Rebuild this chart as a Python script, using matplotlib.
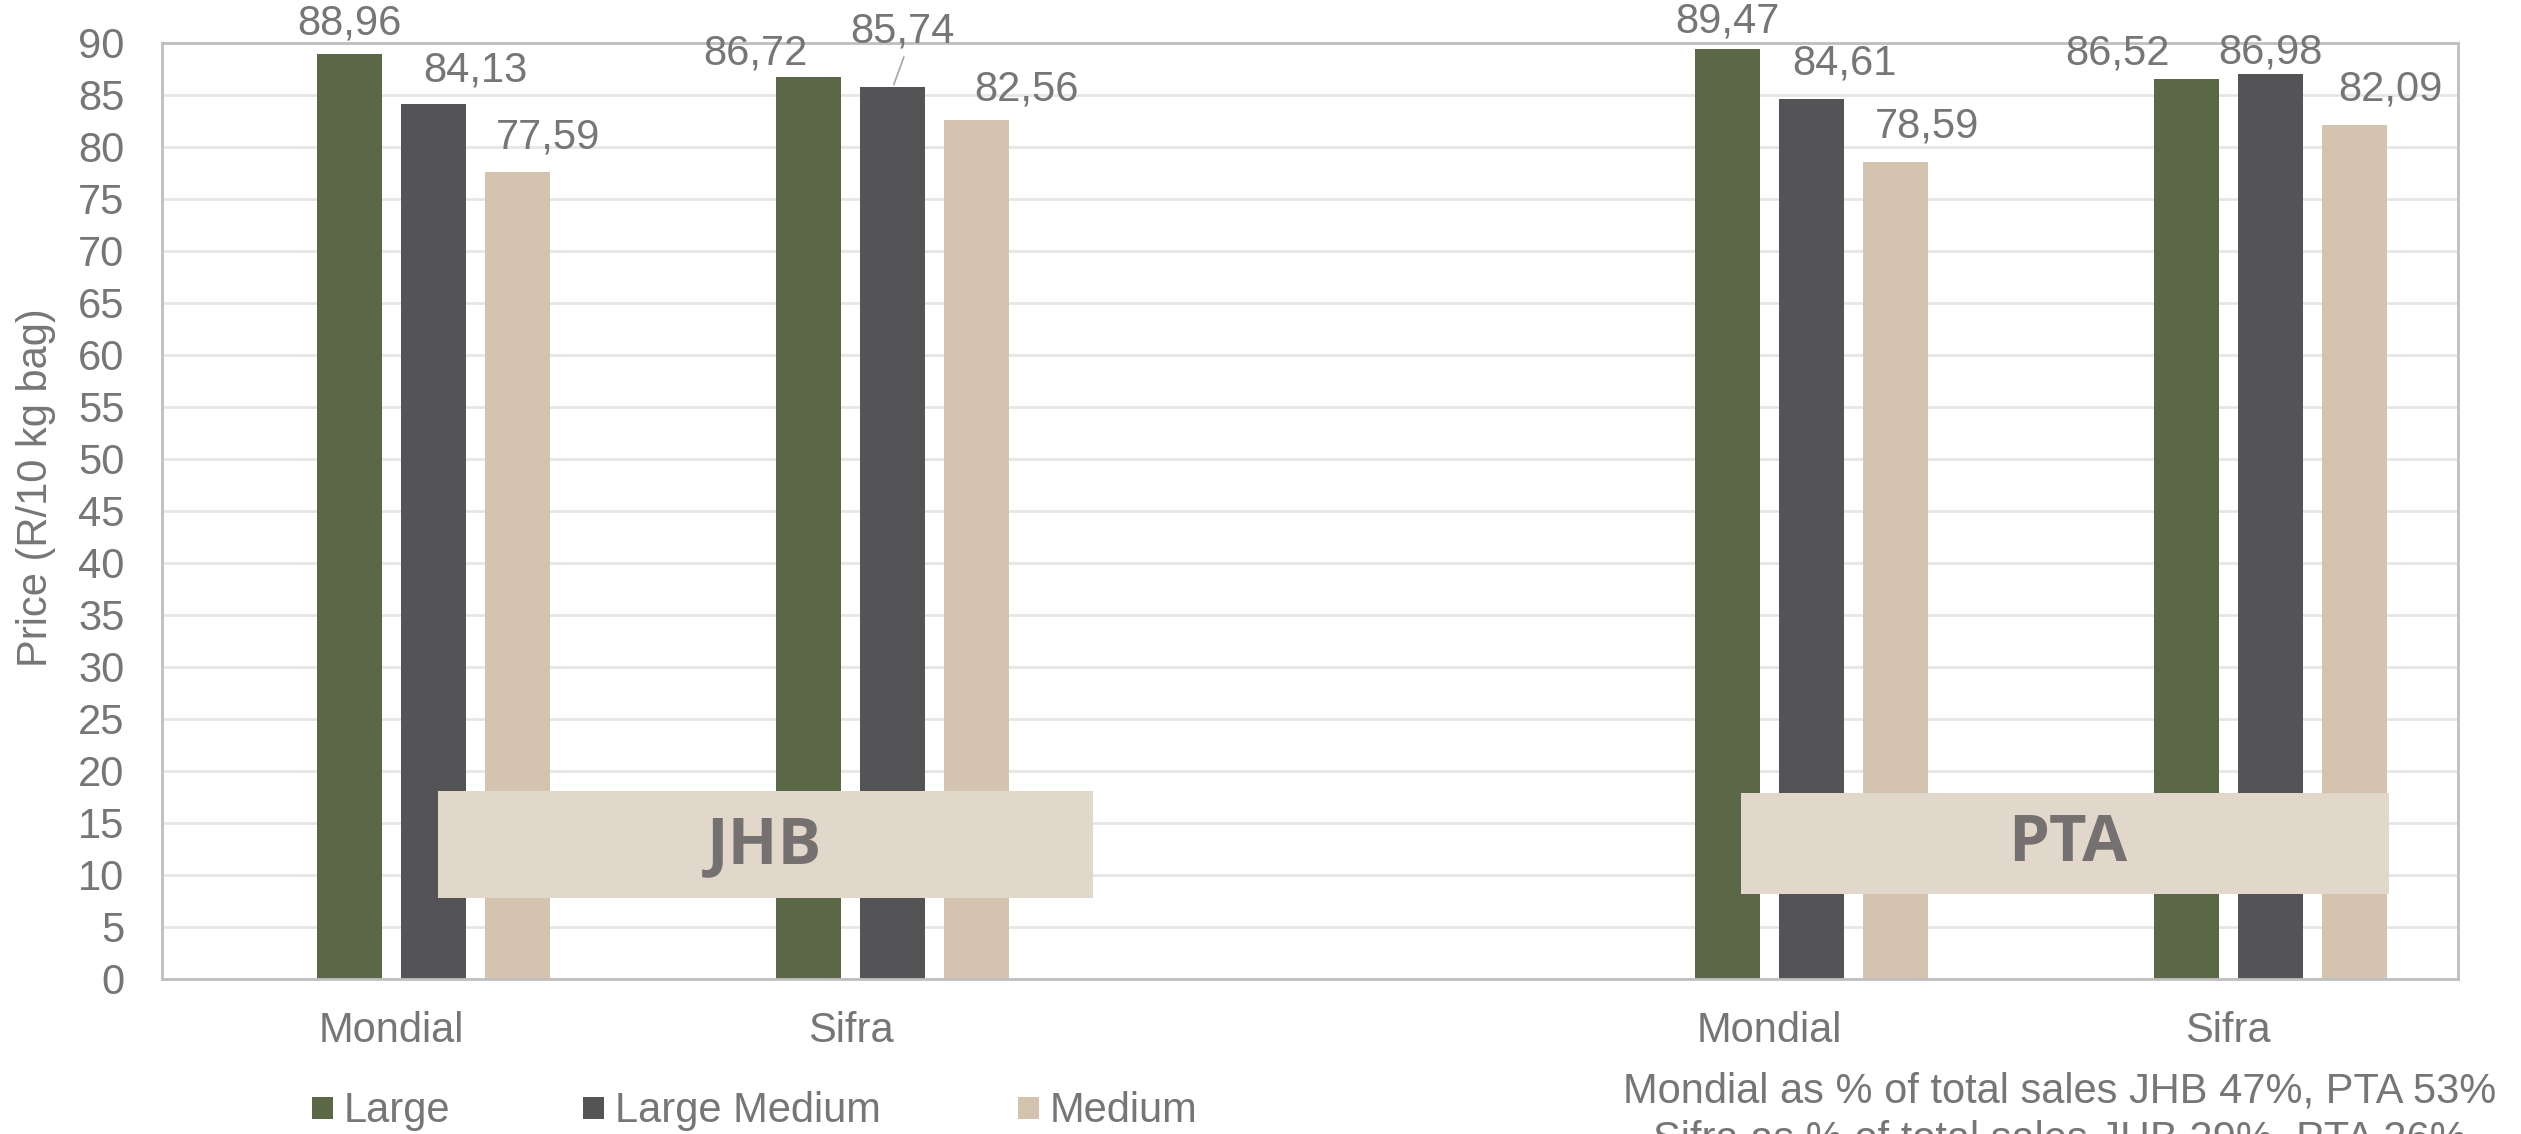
import numpy as np
import matplotlib
matplotlib.use("Agg")
from matplotlib import pyplot as plt
from matplotlib.patches import Rectangle

# data (third slot is the empty gap between JHB and PTA)
categories = ["Mondial", "Sifra", "", "Mondial", "Sifra"]
series = ["Large", "Large Medium", "Medium"]
large = [88.96, 86.72, np.nan, 89.47, 86.52]
large_medium = [84.13, 85.74, np.nan, 84.61, 86.98]
medium = [77.59, 82.56, np.nan, 78.59, 82.09]
yticks = list(range(0, 95, 5))
markets = ["JHB", "PTA"]
note_lines = ["Mondial as % of total sales JHB 47%, PTA 53%",
              "Sifra as % of total sales JHB 29%, PTA 26%"]

colors = ["#5A6848", "#545456", "#D4C3AE"]
txt = "#767676"
W, H = 2521, 1134

# label offsets in pixels from the top of each bar (as placed in the original)
lbl_off = [
    [(0, 30), (-53, 24), None, (0, 27), (-69, 26)],
    [(42, 34), (10, 56), None, (33, 36), (0, 22)],
    [(30, 35), (50, 31), None, (32, 35), (36, 36)],
]

plt.rcParams['font.family'] = ['Liberation Sans', 'DejaVu Sans']

fig = plt.figure(figsize=(W / 100, H / 100), dpi=100)
ax = fig.add_axes([162 / W, 1 - 979 / H, (2458 - 162) / W, (979 - 43) / H])

x = np.arange(len(categories))
slot = 0.183
bw = 0.1416
vals = [large, large_medium, medium]
for i, (name, v) in enumerate(zip(series, vals)):
    off = (i - 0.5) * slot
    ax.bar(x + off, v, width=bw, color=colors[i], zorder=2, label=name)
    for j, val in enumerate(v):
        if np.isnan(val):
            continue
        dx, dy = lbl_off[i][j]
        ax.annotate(f"{val:.2f}".replace(".", ","), (x[j] + off, val),
                    xytext=(dx, dy), textcoords="offset pixels",
                    ha="center", va="center", fontsize=30, color=txt,
                    zorder=5)
        if i == 1 and j == 1:
            # leader line for the moved label
            ax.annotate("", (x[j] + off, val), xytext=(12, 33),
                        textcoords="offset pixels",
                        arrowprops=dict(arrowstyle="-", color="#A6A6A6", lw=1.2))

# JHB / PTA boxes
boxes = [(0.102, 7.8, 1.527, 18.08, 0.813, 12.7),
         (2.938, 8.17, 4.349, 17.88, 3.649, 12.9)]
for m, (x0, y0, x1, y1, tx, ty) in zip(markets, boxes):
    ax.add_patch(Rectangle((x0, y0), x1 - x0, y1 - y0, facecolor="#E2D7CB",
                           edgecolor="none", zorder=4))
    ax.text(tx, ty, m, ha="center", va="center", fontsize=47, fontweight="bold",
            family="Open Sans", color="#767171", zorder=6)

ax.set_xlim(-0.5, 4.5)
ax.set_ylim(0, 90)
ax.set_yticks(yticks)
ax.set_xticks(x)
ax.set_xticklabels(categories)
ax.tick_params(axis="both", length=0, labelsize=30, labelcolor=txt)
ax.tick_params(axis="y", pad=27)
ax.tick_params(axis="x", pad=23)
ax.grid(axis="y", color="#E6E6E6", lw=2, zorder=0)
ax.set_axisbelow(True)
for s in ax.spines.values():
    s.set_color("#BFBFBF")
    s.set_linewidth(2)

fig.text(36 / W, 1 - 488 / H, "Price (R/10 kg bag)", rotation=90,
         ha="center", va="center", fontsize=30, color=txt)

# legend drawn by hand
leg_x = [312, 583, 1018]
for name, c, lx in zip(series, colors, leg_x):
    fig.add_artist(Rectangle((lx / W, 1 - 1119 / H), 21 / W, 22 / H,
                             transform=fig.transFigure, facecolor=c,
                             edgecolor="none"))
    fig.text((lx + 32) / W, 1 - 1122 / H, name, ha="left", va="baseline",
             fontsize=30, color=txt)

for k, line in enumerate(note_lines):
    fig.text(2060 / W, 1 - (1102 + 49 * k) / H, line, ha="center",
             va="baseline", fontsize=30, color=txt)

fig.savefig("out.png", dpi=100, facecolor="white")
